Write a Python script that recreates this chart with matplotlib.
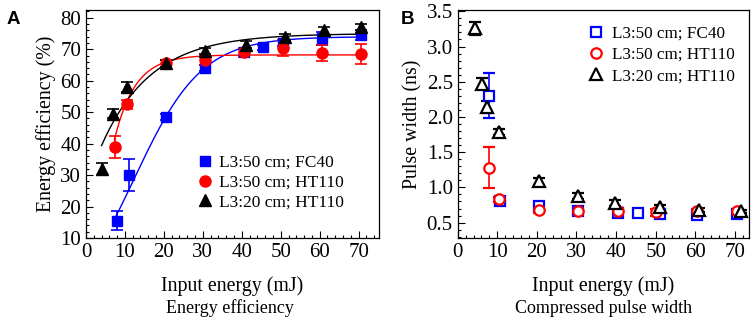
"""
Energy efficiency and compressed pulse width vs input energy
two panels, serif fonts, inward ticks
"""
import numpy as np
import matplotlib
matplotlib.use('Agg')
import matplotlib.pyplot as plt
from matplotlib.ticker import MultipleLocator

plt.rcParams['font.family'] = ['Liberation Serif', 'DejaVu Serif']
plt.rcParams['mathtext.fontset'] = 'stix'

labels = ['L3:50 cm; FC40', 'L3:50 cm; HT110', 'L3:20 cm; HT110']
colors = ['#0000ff', '#ff0000', '#000000']

# Panel A - energy efficiency (%)
eff_fc40_x = [8, 11, 20.5, 30.5, 40.5, 45.5, 50.5, 60.5, 70.5]
eff_fc40_y = [15.5, 30, 48.5, 64, 69, 70.7, 72, 73.5, 74.5]
eff_fc40_err = [3, 5, 1, 1, 1, 0.8, 1, 2, 1.5]

eff_ht50_x = [7.5, 10.5, 20.5, 30.5, 40.5, 50.5, 60.5, 70.5]
eff_ht50_y = [39, 52.5, 65.5, 66.5, 69, 70.3, 68.8, 68.5]
eff_ht50_err = [3.5, 1.5, 1, 1.5, 1.5, 2.5, 2.5, 3.3]

eff_ht20_x = [4, 7, 10.5, 20.5, 30.5, 41, 51, 61, 70.5]
eff_ht20_y = [32, 49.5, 58, 65.5, 69.5, 71.5, 74, 76, 77]
eff_ht20_err = [2, 1.5, 1.5, 1, 1, 1, 1, 1, 1]

# fitted curve parameters
fit_fc40 = dict(a1=-16.7, a2=74.0, x0=12.3, dx=8.7, start=7.5)      # Boltzmann
fit_ht50 = dict(top=68.2, b=27.0, t=5.3, start=7.3)                  # exp assoc
fit_ht20 = dict(top=75.0, b=35.6, t=12.7, start=4.0)                 # exp assoc
fit_end = 71.2

# Panel B - compressed pulse width (ns)
pw_fc40_x = [8, 10.7, 20.5, 30.5, 40.5, 45.5, 51, 60.5, 70.5]
pw_fc40_y = [2.3, 0.80, 0.74, 0.66, 0.63, 0.63, 0.62, 0.61, 0.62]
pw_fc40_err = [0.32, 0.03, 0.03, 0.02, 0.02, 0.02, 0.02, 0.02, 0.02]

pw_ht50_x = [8, 10.5, 20.5, 30.5, 40.5, 50, 60.5, 70.5]
pw_ht50_y = [1.28, 0.83, 0.68, 0.67, 0.67, 0.65, 0.67, 0.67]
pw_ht50_err = [0.29, 0.04, 0.04, 0.03, 0.04, 0.05, 0.03, 0.03]

pw_ht20_x = [4.4, 6.2, 7.3, 10.5, 20.5, 30.5, 39.8, 51, 61, 71.5]
pw_ht20_y = [3.26, 2.47, 2.14, 1.79, 1.09, 0.88, 0.78, 0.72, 0.68, 0.66]
pw_ht20_err = [0.09, 0.08, 0.09, 0.04, 0.05, 0.04, 0.04, 0.03, 0.03, 0.02]

fig = plt.figure(figsize=(7.54, 3.2), dpi=100)
axA = fig.add_axes([0.114, 0.256, 0.389, 0.713])
axB = fig.add_axes([0.607, 0.256, 0.386, 0.713])


def style_axis(ax):
    ax.tick_params(which='both', direction='in', top=False, right=False,
                   labelsize=15, width=0.8)
    ax.tick_params(which='major', length=5)
    ax.tick_params(which='minor', length=2.5)
    for s in ax.spines.values():
        s.set_linewidth(0.9)


# ---- Panel A ----
xx = np.linspace(fit_fc40['start'], fit_end, 200)
p = fit_fc40
yy = p['a2'] + (p['a1'] - p['a2']) / (1 + np.exp((xx - p['x0']) / p['dx']))
axA.plot(xx, yy, color=colors[0], lw=1.0, zorder=2)

xx = np.linspace(fit_ht50['start'], fit_end, 200)
p = fit_ht50
axA.plot(xx, p['top'] - p['b'] * np.exp(-(xx - p['start']) / p['t']),
         color=colors[1], lw=1.0, zorder=2)

xx = np.linspace(fit_ht20['start'], fit_end, 200)
p = fit_ht20
axA.plot(xx, p['top'] - p['b'] * np.exp(-(xx - p['start']) / p['t']),
         color=colors[2], lw=1.0, zorder=2)

eb_kw = dict(ls='none', elinewidth=1.2, capsize=4, capthick=1.2, zorder=3)
axA.errorbar(eff_fc40_x, eff_fc40_y, yerr=eff_fc40_err, fmt='s', color=colors[0],
             ms=7.5, label=labels[0], **eb_kw)
axA.errorbar(eff_ht50_x, eff_ht50_y, yerr=eff_ht50_err, fmt='o', color=colors[1],
             ms=8, label=labels[1], **eb_kw)
axA.errorbar(eff_ht20_x, eff_ht20_y, yerr=eff_ht20_err, fmt='^', color=colors[2],
             ms=8.5, label=labels[2], **eb_kw)

axA.set_xlim(0, 75.3)
axA.set_ylim(10, 82.5)
axA.xaxis.set_major_locator(MultipleLocator(10))
axA.xaxis.set_minor_locator(MultipleLocator(2))
axA.yaxis.set_major_locator(MultipleLocator(10))
axA.yaxis.set_minor_locator(MultipleLocator(2))
style_axis(axA)
axA.set_xlabel('Input energy (mJ)', fontsize=14.3, labelpad=10)
axA.set_ylabel('Energy efficiency (%)', fontsize=14.3, labelpad=3)

handles, labs = axA.get_legend_handles_labels()
handles = [h[0] for h in handles]
axA.legend(handles, labs, loc='upper left', bbox_to_anchor=(0.36, 0.395),
           frameon=False, fontsize=12.5, handlelength=0.8, handletextpad=0.4,
           labelspacing=0.2, borderaxespad=0)

# ---- Panel B ----
eb_kw2 = dict(ls='none', elinewidth=1.2, capsize=4, capthick=1.2, zorder=3,
              mfc='white', mew=1.6)
axB.errorbar(pw_fc40_x, pw_fc40_y, yerr=pw_fc40_err, fmt='s', color=colors[0],
             ms=6.5, label=labels[0], **eb_kw2)
axB.errorbar(pw_ht50_x, pw_ht50_y, yerr=pw_ht50_err, fmt='o', color=colors[1],
             ms=7.5, label=labels[1], **eb_kw2)
axB.errorbar(pw_ht20_x, pw_ht20_y, yerr=pw_ht20_err, fmt='^', color=colors[2],
             ms=8, label=labels[2], **eb_kw2)

axB.set_xlim(0, 73.5)
axB.set_ylim(0.28, 3.52)
axB.xaxis.set_major_locator(MultipleLocator(10))
axB.xaxis.set_minor_locator(MultipleLocator(2))
axB.yaxis.set_major_locator(MultipleLocator(0.5))
axB.yaxis.set_minor_locator(MultipleLocator(0.1))
axB.yaxis.set_major_formatter(plt.FormatStrFormatter('%.1f'))
style_axis(axB)
axB.set_xlabel('Input energy (mJ)', fontsize=14.3, labelpad=10)
axB.set_ylabel('Pulse width (ns)', fontsize=14.3, labelpad=3)

handles, labs = axB.get_legend_handles_labels()
handles = [h[0] for h in handles]
axB.legend(handles, labs, loc='upper left', bbox_to_anchor=(0.43, 0.96),
           frameon=False, fontsize=12.3, handlelength=0.8, handletextpad=0.5,
           labelspacing=0.3, borderaxespad=0)

# captions and panel letters
fig.text(0.305, 0.022, 'Energy efficiency', fontsize=13, ha='center', va='baseline')
fig.text(0.80, 0.022, 'Compressed pulse width', fontsize=13, ha='center', va='baseline')
fig.text(0.008, 0.925, 'A', fontsize=13.5, fontweight='bold', family='Liberation Sans')
fig.text(0.532, 0.925, 'B', fontsize=13.5, fontweight='bold', family='Liberation Sans')

fig.savefig('out.png', dpi=100)
